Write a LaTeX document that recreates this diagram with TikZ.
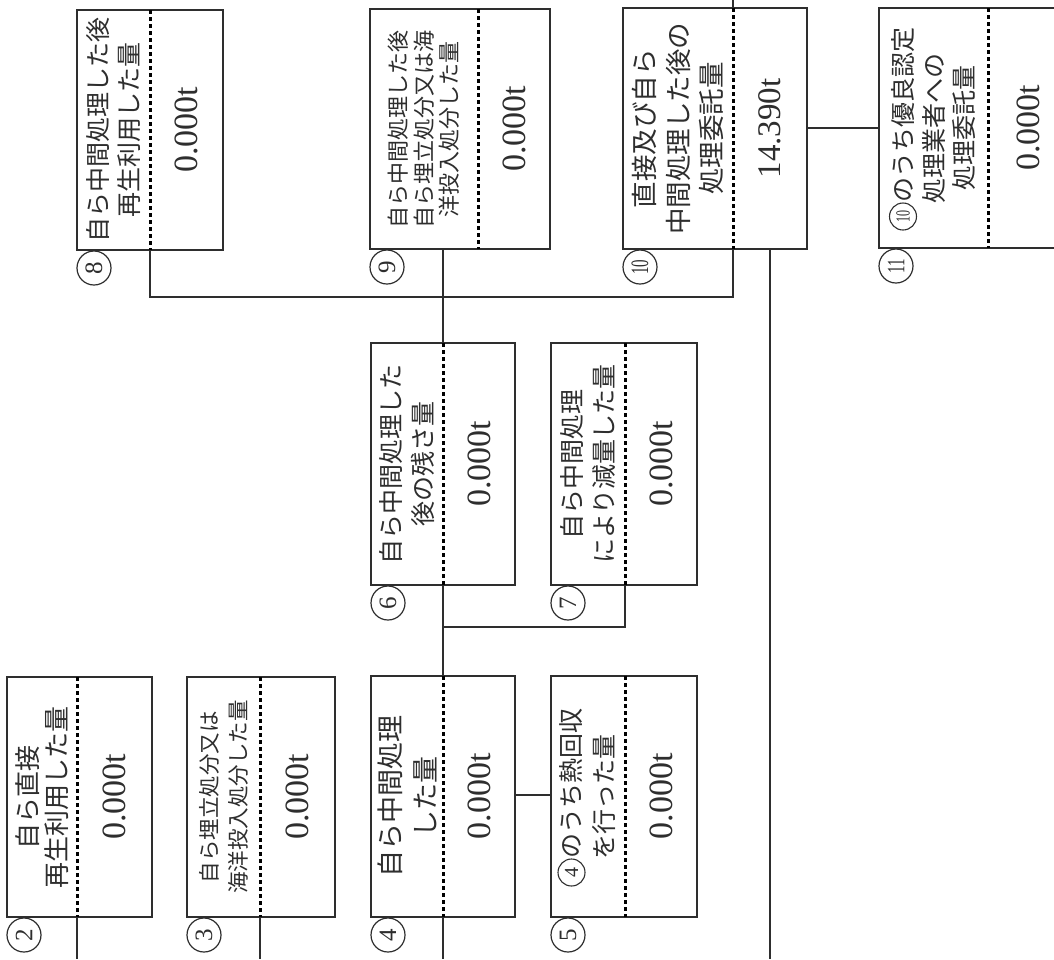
\documentclass[tikz,border=0pt]{standalone}
\usepackage{graphicx}
\usepackage{fontspec}
\setmainfont{Liberation Serif}
\newfontfamily\cjk{Noto Sans CJK JP}
\definecolor{ink}{HTML}{2E2E2E}
\tikzset{
  boxst/.style={draw=ink, line width=1.9pt, inner sep=0pt, outer sep=0pt, rectangle},
  dotst/.style={draw=black, line width=3pt, dash pattern=on 3.5pt off 3.5pt},
  conn/.style={draw=ink, line width=1.8pt},
  lab/.style={rotate=90, align=center, inner sep=0pt, text=ink, font=\cjk\fontsize{25}{32}\selectfont},
  labsmall/.style={lab, font=\cjk\fontsize{21.5}{29}\selectfont},
  val/.style={rotate=90, inner sep=0pt, text=ink, font=\fontsize{34}{36}\selectfont},
  num/.style={rotate=90, circle, draw=ink, line width=1.2pt, minimum size=34pt, inner sep=0pt, text=ink, font=\fontsize{25}{25}\selectfont},
  incircst/.style={rotate=90, circle, draw=ink, line width=1.1pt, minimum size=27pt, inner sep=0pt, text=ink, font=\fontsize{20}{20}\selectfont},
}
% name, left, top, right, bottom, dotted x
\newcommand\drawform[6]{%
  \node[boxst, minimum width={(#4-#2)*1pt}, minimum height={(#5-#3)*1pt}] (#1) at ({(#2+#4)/2},{(#3+#5)/2}) {};
  \coordinate (#1t) at (#6,#3);
  \coordinate (#1b) at (#6,#5);
  \coordinate (#1L) at ({(#2+#6)/2},{(#3+#5)/2});
  \coordinate (#1V) at ({(#6+#4)/2},{(#3+#5)/2});
  \coordinate (#1N) at ({#2+17},{#5+18});
  \draw[dotst] (#1t) -- (#1b);
}
\begin{document}
\begin{tikzpicture}[x=1pt,y=-1pt]
\useasboundingbox (0,0) rectangle (1054,959);
\clip (0,0) rectangle (1054,959);
\fill[white] (0,0) rectangle (1054,959);

\drawform{b2}{7}{677}{152}{917}{77}
\drawform{b3}{187}{677}{335}{917}{260}
\drawform{b4}{371}{676}{515}{917}{443}
\drawform{b5}{551}{676}{697}{917}{625}
\drawform{b6}{371}{343}{515}{585}{443}
\drawform{b7}{551}{343}{697}{585}{625}
\drawform{b8}{77}{10}{223}{250}{150}
\drawform{b9}{370}{9}{550}{249}{478}
\drawform{b10}{623}{8}{807}{249}{733}
\drawform{b11}{879}{8}{1075}{248}{988}

% labels
\node[lab, font=\cjk\fontsize{26}{29}\selectfont] (t2) at (b2L) {自ら直接\\再生利用した量};
\node[labsmall] (t3) at (b3L) {自ら埋立処分又は\\海洋投入処分した量};
\node[lab, font=\cjk\fontsize{27}{35}\selectfont] (t4) at (b4L) {自ら中間処理\\した量};
\node[lab, font=\cjk\fontsize{25}{33}\selectfont] (t5) at (b5L) {\hspace*{27pt}のうち熱回収\\を行った量};
\node[incircst] (c5) at ([xshift=-16.5pt,yshift=-76pt]t5.center) {4};
\node[lab] (t6) at (b6L) {自ら中間処理した\\後の残さ量};
\node[lab] (t7) at (b7L) {自ら中間処理\\により減量した量};
\node[lab, font=\cjk\fontsize{25}{31}\selectfont] (t8) at (b8L) {自ら中間処理した後\\再生利用した量};
\node[lab, font=\cjk\fontsize{22}{25.5}\selectfont] (t9) at (b9L) {自ら中間処理した後\\自ら埋立処分又は海\\洋投入処分した量};
\node[lab, font=\cjk\fontsize{26.5}{33.5}\selectfont] (t10) at (b10L) {直接及び自ら\\中間処理した後の\\処理委託量};
\node[lab, font=\cjk\fontsize{25}{30.5}\selectfont] (t11) at (b11L) {\hspace*{27pt}のうち優良認定\\処理業者への\\処理委託量};
\node[incircst] (c11) at ([xshift=-30.5pt,yshift=-88.5pt]t11.center) {\scalebox{0.6}[1]{10}};

% values
\node[val] (v2) at (b2V) {0.000t};
\node[val] (v3) at (b3V) {0.000t};
\node[val] (v4) at (b4V) {0.000t};
\node[val] (v5) at (b5V) {0.000t};
\node[val] (v6) at (b6V) {0.000t};
\node[val] (v7) at (b7V) {0.000t};
\node[val] (v8) at (b8V) {0.000t};
\node[val] (v9) at (b9V) {0.000t};
\node[val, font=\fontsize{33}{36}\selectfont] (v10) at (b10V) {14.390t};
\node[val] (v11) at ([xshift=-3pt]b11V) {0.000t};

% circled numbers
\node[num] (n2) at (b2N) {2};
\node[num] (n3) at (b3N) {3};
\node[num] (n4) at (b4N) {4};
\node[num] (n5) at (b5N) {5};
\node[num] (n6) at (b6N) {6};
\node[num] (n7) at (b7N) {7};
\node[num] (n8) at (b8N) {8};
\node[num] (n9) at (b9N) {9};
\node[num] (n10) at (b10N) {\scalebox{0.6}[1]{10}};
\node[num] (n11) at (b11N) {\scalebox{0.6}[1]{11}};

% free ends and junctions
\coordinate (topend) at (733,0);
\coordinate (j810) at (733,297);
\coordinate (j8) at (150,297);
\coordinate (j9top) at (443,249);
\coordinate (j67) at (443,627);
\coordinate (j7) at (625,627);
\coordinate (v10top) at (770,249);
\coordinate (v10end) at (770,959);
\coordinate (e2) at (77,959);
\coordinate (e3) at (260,959);
\coordinate (e4) at (443,959);

% connectors
\draw[conn] (b10t) -- (topend);
\draw[conn] (b8b) -- (j8) -- (j810) -- (b10b);
\draw[conn] (j9top) -- (b6t);
\draw[conn] (b6b) -- (j67) -- (j7) -- (b7b);
\draw[conn] (j67) -- (b4t);
\draw[conn] (b4.east |- 0,795) -- (b5.west |- 0,795);
\draw[conn] (b10.east |- 0,128) -- (b11.west |- 0,128);
\draw[conn] (v10top) -- (v10end);
\draw[conn] (b2b) -- (e2);
\draw[conn] (b3b) -- (e3);
\draw[conn] (b4b) -- (e4);
\end{tikzpicture}
\end{document}
